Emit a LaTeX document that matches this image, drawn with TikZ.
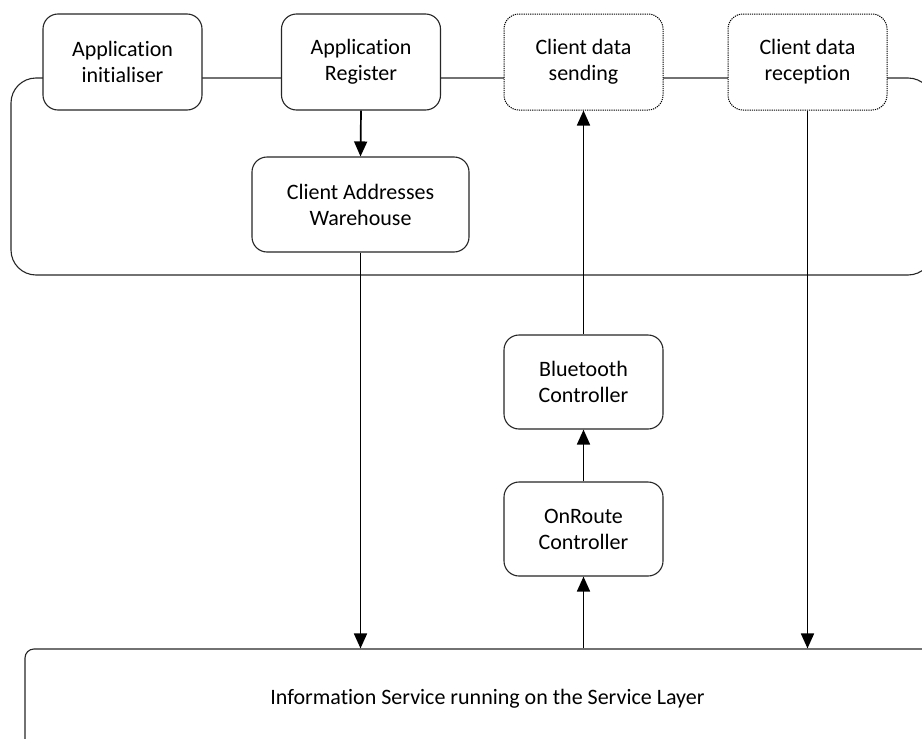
\documentclass[tikz,border=0pt]{standalone}
\usepackage{fontspec}
\setmainfont{Carlito}[Ligatures=NoCommon]
\usetikzlibrary{arrows.meta}
\begin{document}
\begin{tikzpicture}[x=1pt,y=-1pt,
  every node/.style={font=\fontsize{22}{26}\selectfont, align=center, inner sep=0pt},
  box/.style={draw=black!85, line width=1.1pt, rounded corners=15pt, fill=white,
    minimum width=159pt, minimum height=96pt},
  dotbox/.style={box, draw=black, dash pattern=on 1.2pt off 1pt, line width=1pt},
  frame/.style={draw=black!85, line width=1.1pt, rounded corners=25pt},
  arr/.style={line width=1.7pt, -{Triangle[length=15pt,width=13pt]}}]
\useasboundingbox (0,0) rectangle (922,739);
\clip (0,0) rectangle (922,739);
% container
\node[frame, minimum width=922pt, minimum height=197pt] (cont) at (472,176.5) {};
% info service
\node[frame, rounded corners=9pt, minimum width=925pt, minimum height=100pt] (info) at (487.5,699) {Information Service running on the Service Layer};
% top boxes
\node[box] (init) at (122.5,62) {Application\\initialiser};
\node[box] (reg) at (361,62) {Application\\Register};
\node[dotbox] (send) at (583.5,62) {Client data\\sending};
\node[dotbox] (rec) at (807.5,62) {Client data\\reception};
\node[box, minimum width=217pt, minimum height=95pt] (wh) at (360.5,204.5) {Client Addresses\\Warehouse};
\node[box, minimum height=94pt] (bt) at (583.5,382) {Bluetooth\\Controller};
\node[box, minimum height=94pt] (on) at (583.5,529) {OnRoute\\Controller};
% connectors
\draw[arr] (reg.south) -- (wh.north);
\draw[arr] (wh.south) -- (wh.south |- info.north);
\draw[arr] (info.north -| on.south) -- (on.south);
\draw[arr] (on.north) -- (bt.south);
\draw[arr] (bt.north) -- (send.south);
\draw[arr] (rec.south) -- (rec.south |- info.north);
\end{tikzpicture}
\end{document}
